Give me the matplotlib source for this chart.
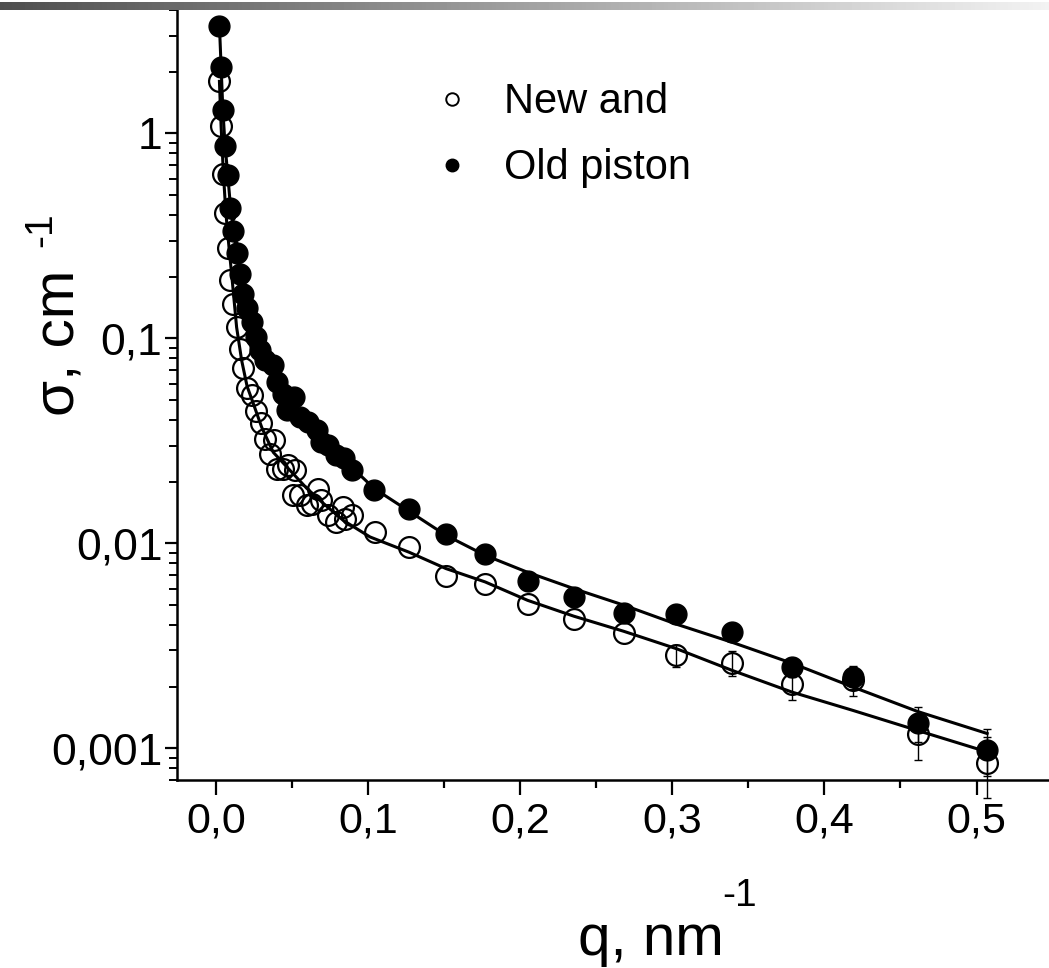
import numpy as np
import matplotlib
matplotlib.use("Agg")
import matplotlib.pyplot as plt
from matplotlib.lines import Line2D
from matplotlib.ticker import FixedLocator, LogLocator, MultipleLocator, FuncFormatter, NullFormatter

# --- data (q in nm^-1, sigma in cm^-1) ---
q_old = [0.0022, 0.0033, 0.0044, 0.0059, 0.0077, 0.0094, 0.0114, 0.0136, 0.0158, 0.0179,
         0.0206, 0.0235, 0.0263, 0.0289, 0.0322, 0.0376, 0.0399, 0.0442, 0.0468, 0.0514,
         0.0552, 0.0606, 0.0662, 0.0688, 0.0738, 0.0788, 0.0843, 0.0892, 0.1040, 0.1269,
         0.1511, 0.1769, 0.2048, 0.2352, 0.2681, 0.3027, 0.3392, 0.3786, 0.4187, 0.4614, 0.5070]
s_old = [3.36, 2.12, 1.305, 0.867, 0.624, 0.434, 0.333, 0.262, 0.207, 0.164,
         0.141, 0.120, 0.1015, 0.0874, 0.0787, 0.0739, 0.0612, 0.0537, 0.0445, 0.0516,
         0.0413, 0.0391, 0.0359, 0.0312, 0.0301, 0.0269, 0.0262, 0.0229, 0.0183, 0.0147,
         0.01115, 0.00891, 0.00655, 0.00547, 0.00456, 0.00454, 0.00369, 0.00249, 0.00223, 0.00133, 0.000986]
e_old = [0] * 37 + [0.00027, 0.00029, 0.00026, 0.00025]

q_new = [0.0022, 0.0033, 0.0048, 0.0061, 0.0077, 0.0092, 0.0114, 0.0136, 0.0158, 0.0179,
         0.0205, 0.0235, 0.0263, 0.0294, 0.0322, 0.0381, 0.0355, 0.0399, 0.0438, 0.0475,
         0.0519, 0.0508, 0.0552, 0.0596, 0.0629, 0.0672, 0.0688, 0.0738, 0.0788, 0.0836,
         0.0848, 0.0892, 0.1045, 0.1270, 0.1511, 0.1769, 0.2048, 0.2352, 0.2681, 0.3027,
         0.3392, 0.3786, 0.4187, 0.4614, 0.5070]
s_new = [1.794, 1.082, 0.636, 0.407, 0.277, 0.193, 0.1465, 0.1136, 0.0891, 0.0720,
         0.0575, 0.0527, 0.0442, 0.0386, 0.0324, 0.0318, 0.0272, 0.0231, 0.0231, 0.0240,
         0.0229, 0.01715, 0.01715, 0.01532, 0.01563, 0.01849, 0.01621, 0.01370, 0.01271, 0.01503,
         0.01320, 0.01370, 0.01135, 0.00964, 0.00690, 0.00631, 0.00504, 0.00429, 0.00364, 0.00284,
         0.00262, 0.00205, 0.00215, 0.00117, 0.000851]
e_new = [0] * 39 + [0.00035, 0.00036, 0.00033, 0.00035, 0.00029, 0.00028]

# fitted curves
q_fit_old = [0.0022, 0.0033, 0.0044, 0.0059, 0.0077, 0.0095, 0.0114, 0.0136, 0.0158, 0.0179,
             0.0206, 0.0235, 0.0263, 0.0289, 0.0322, 0.0376, 0.0440, 0.0512, 0.0604, 0.0688,
             0.0788, 0.0892, 0.1040, 0.1270, 0.1511, 0.1769, 0.2048, 0.2352, 0.2681, 0.3027,
             0.3392, 0.3786, 0.4187, 0.4614, 0.5070]
s_fit_old = [3.36, 2.12, 1.324, 0.874, 0.624, 0.4355, 0.3327, 0.2627, 0.2075, 0.1676,
             0.1416, 0.1197, 0.1022, 0.0884, 0.0772, 0.0645, 0.0527, 0.0445, 0.0376, 0.0325,
             0.0281, 0.0235, 0.0185, 0.01432, 0.01094, 0.00874, 0.00722, 0.00601, 0.00499, 0.00403,
             0.00329, 0.00260, 0.00199, 0.00151, 0.00118]
q_fit_new = [0.0022, 0.0033, 0.0048, 0.0064, 0.0085, 0.0108, 0.0135, 0.0168, 0.0204, 0.0237,
             0.0300, 0.0376, 0.0486, 0.0596, 0.0705, 0.0836, 0.1012, 0.1270, 0.1511, 0.1769,
             0.2048, 0.2352, 0.2681, 0.3027, 0.3392, 0.3786, 0.4187, 0.4614, 0.5070]
s_fit_new = [1.794, 1.082, 0.638, 0.412, 0.278, 0.1855, 0.1132, 0.0781, 0.0583, 0.0499,
             0.0368, 0.0278, 0.0227, 0.01855, 0.01567, 0.01294, 0.01074, 0.00904, 0.00753, 0.00648,
             0.00527, 0.00441, 0.00372, 0.00306, 0.00240, 0.00188, 0.00153, 0.00122, 0.000960]

labels = ["New and", "Old piston"]

plt.rcParams["font.family"] = ["Liberation Sans", "DejaVu Sans"]

fig = plt.figure(figsize=(10.49, 9.68), dpi=100)
ax = fig.add_axes([177 / 1049, 1 - 780 / 968, 871 / 1049, 770 / 968])

# grey gradient bar along the top edge
bar = fig.add_axes([0, 1 - 10 / 968, 1, 8 / 968])
bar.imshow(np.linspace(0.31, 0.95, 256)[None, :], cmap="gray", vmin=0, vmax=1,
           aspect="auto", extent=[0, 1, 0, 1])
bar.axis("off")

ax.plot(q_fit_old, s_fit_old, color="black", lw=2.2, zorder=2)
ax.plot(q_fit_new, s_fit_new, color="black", lw=2.2, zorder=2)

eo = np.array(e_old); en = np.array(e_new)
mo = eo > 0; mn = en > 0
ax.errorbar(np.array(q_old)[mo], np.array(s_old)[mo], yerr=eo[mo], fmt="none",
            ecolor="black", elinewidth=1, capsize=3, zorder=3)
ax.errorbar(np.array(q_new)[mn], np.array(s_new)[mn], yerr=en[mn], fmt="none",
            ecolor="black", elinewidth=1, capsize=3, zorder=3, clip_on=False)

ax.plot(q_new, s_new, "o", ms=15, mfc="none", mec="black", mew=1.6, zorder=4)
ax.plot(q_old, s_old, "o", ms=15, mfc="black", mec="black", zorder=5)

ax.set_yscale("log")
ax.set_xlim(-0.0257, 0.547)
ax.set_ylim(7e-4, 4.0)

ax.xaxis.set_major_locator(MultipleLocator(0.1))
ax.xaxis.set_minor_locator(MultipleLocator(0.05))
ax.xaxis.set_major_formatter(FuncFormatter(lambda v, p: f"{v:.1f}".replace(".", ",")))
ax.yaxis.set_major_locator(FixedLocator([1e-3, 1e-2, 1e-1, 1]))
ax.yaxis.set_minor_locator(LogLocator(base=10, subs=np.arange(2, 10)))
ax.yaxis.set_major_formatter(FuncFormatter(lambda v, p: f"{v:g}".replace(".", ",")))
ax.yaxis.set_minor_formatter(NullFormatter())

for s in ("top", "right"):
    ax.spines[s].set_visible(False)
for s in ("left", "bottom"):
    ax.spines[s].set_linewidth(1.8)

ax.tick_params(axis="x", which="major", direction="out", length=10.8, width=1.6, pad=5, labelsize=31)
ax.tick_params(axis="x", which="minor", direction="out", length=5.8, width=1.6)
ax.tick_params(axis="y", which="major", direction="out", length=8.6, width=1.6, pad=2, labelsize=32)
ax.tick_params(axis="y", which="minor", direction="out", length=5.8, width=1.4)

# axis titles (superscripts drawn as their own small texts, hyphen as in the original)
fig.text(578 / 1049, 1 - 955 / 968, "q, nm", fontsize=42, ha="left", va="baseline")
fig.text(722 / 1049, 1 - 906 / 968, "-1", fontsize=28, ha="left", va="baseline")
fig.text(60 / 1049, 1 - 343 / 968, "σ, cm", fontsize=42, rotation=90, ha="center", va="center")
fig.text(41 / 1049, 1 - 230 / 968, "-1", fontsize=28, rotation=90, ha="center", va="center")

handles = [Line2D([], [], ls="none", marker="o", ms=9, mfc="white", mec="black", mew=1.4),
           Line2D([], [], ls="none", marker="o", ms=9, mfc="black", mec="black")]
leg = ax.legend(handles, labels, loc="upper left", bbox_to_anchor=(0.268, 0.933),
                frameon=False, prop={"size": 30},
                handletextpad=0.74, labelspacing=0.62, borderpad=0, handlelength=1.0)

fig.savefig("out.png", dpi=100)
